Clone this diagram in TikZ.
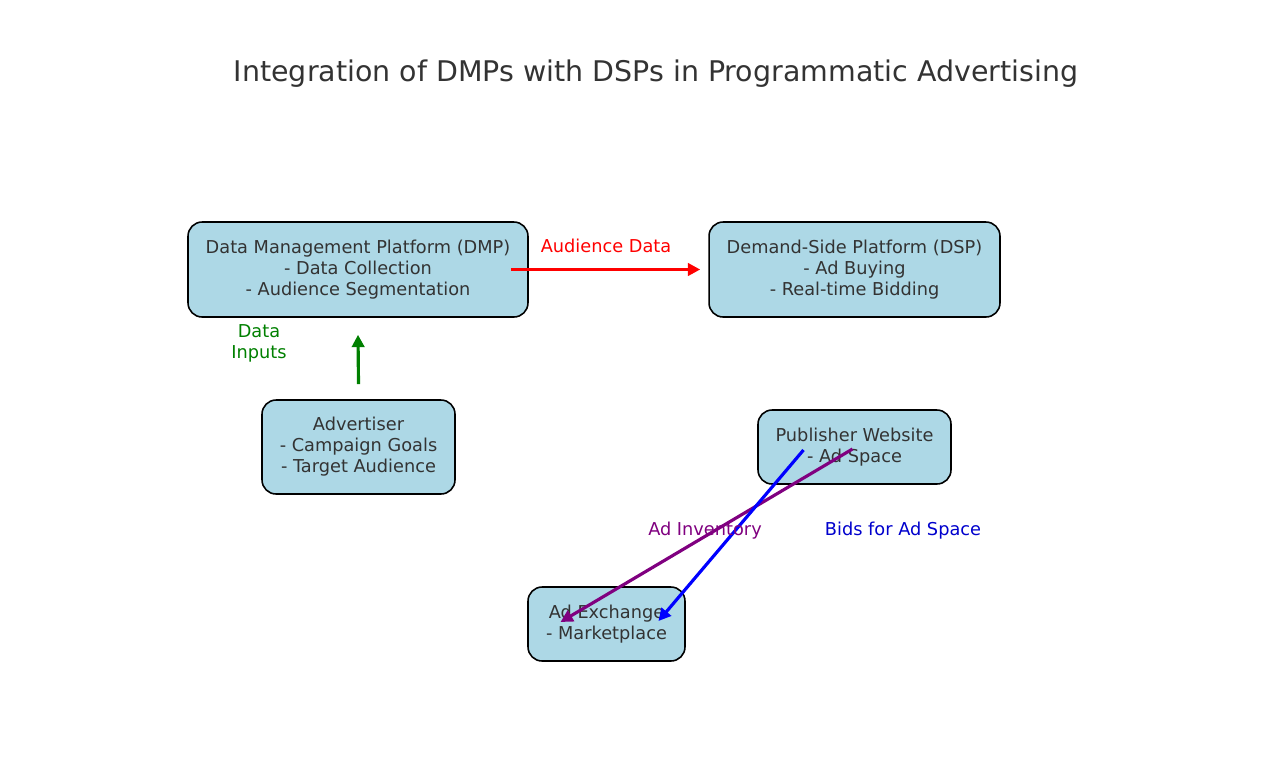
\documentclass[tikz,border=0pt]{standalone}
\usepackage{fontspec}
\setmainfont{DejaVu Sans}
\usetikzlibrary{arrows.meta,calc}

\definecolor{boxblue}{RGB}{173,216,230}
\definecolor{textgray}{RGB}{51,51,51}
\definecolor{arrowgreen}{RGB}{0,128,0}
\definecolor{arrowpurple}{RGB}{128,0,128}
\definecolor{labelblue}{RGB}{0,0,205}

\begin{document}
\begin{tikzpicture}[x=0.02cm, y=-0.02cm,
    platform/.style={rounded corners=8pt, draw=black, line width=0.9pt, fill=boxblue,
      text=textgray, align=center, font=\fontsize{10.1}{12}\selectfont, inner sep=0pt},
    flow/.style={line width=1.8pt, -{Triangle[length=7pt,width=7pt]}},
    flowlabel/.style={align=center, font=\fontsize{10.1}{12}\selectfont}]
    \useasboundingbox[fill=white] (0,0) rectangle (1280,768);

    \node[text=textgray, font=\fontsize{16.2}{19}\selectfont](title) at (656,74)
      {Integration of DMPs with DSPs in Programmatic Advertising};

    \draw
    (358,269.5) node[platform, minimum width=6.8cm, minimum height=1.9cm](DMP)
      {Data Management Platform (DMP)\\- Data Collection\\- Audience Segmentation}
    (854.5,269.5) node[platform, minimum width=5.82cm, minimum height=1.9cm](DSP)
      {Demand-Side Platform (DSP)\\- Ad Buying\\- Real-time Bidding}
    (358.5,447) node[platform, minimum width=3.86cm, minimum height=1.88cm](ADV)
      {Advertiser\\- Campaign Goals\\- Target Audience}
    (854.5,447) node[platform, minimum width=3.86cm, minimum height=1.48cm](PUB)
      {Publisher Website\\- Ad Space}
    (606.5,624) node[platform, minimum width=3.14cm, minimum height=1.48cm](ADX)
      {Ad Exchange\\- Marketplace};

    \draw[flow, red] ($(DMP.east)+(-18,0)$) -- ($(DSP.west)+(-8,0)$);
    \draw[flow, arrowgreen] ($(ADV.north)+(0,-15)$) -- ($(DMP.south)+(0,17)$);
    \draw[flow, arrowpurple] ($(PUB.center)+(-2,2)$) -- ($(ADX.center)+(-46,-2)$);
    \draw[flow, blue] ($(PUB.center)+(-51,3)$) -- ($(ADX.center)+(52,-3)$);

    \node[flowlabel, text=red](lblaud) at (606,246) {Audience Data};
    \node[flowlabel, text=arrowgreen](lblinp) at (259,343) {Data\\Inputs};
    \node[flowlabel, text=arrowpurple](lblinv) at (705,531) {Ad Inventory};
    \node[flowlabel, text=labelblue](lblbid) at (903,531) {Bids for Ad Space};

  \end{tikzpicture}
\end{document}
